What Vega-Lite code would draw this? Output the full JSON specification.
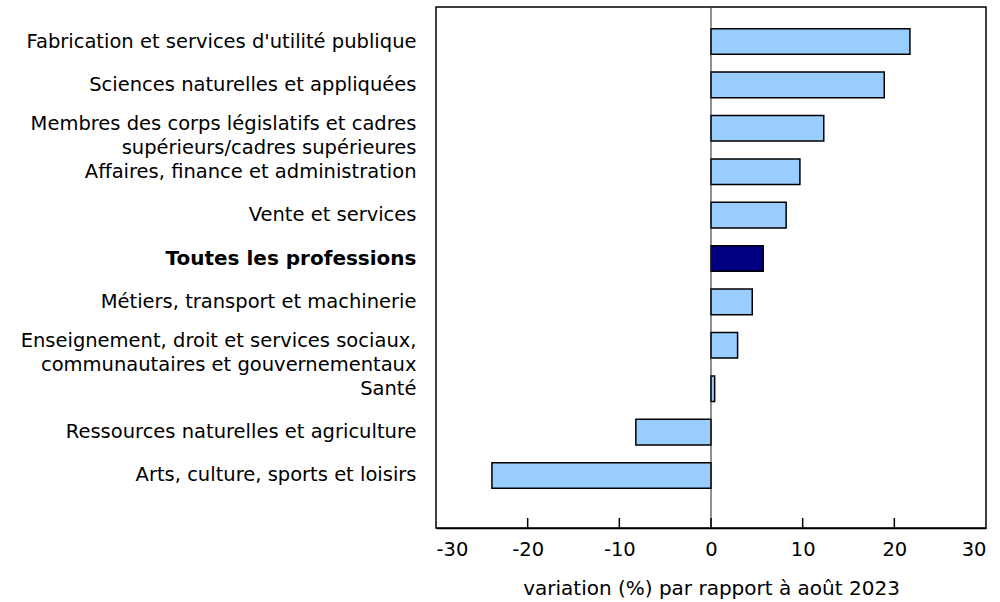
{
  "$schema": "https://vega.github.io/schema/vega-lite/v6.json",
  "width": 550,
  "height": 521,
  "padding": {"left": 20, "top": 6, "right": 13, "bottom": 0},
  "config": {
    "font": "DejaVu Sans",
    "view": {"stroke": "#000000", "strokeWidth": 1.5},
    "axis": {"labelFont": "DejaVu Sans", "titleFont": "DejaVu Sans", "labelColor": "#000000", "titleColor": "#000000"}
  },
  "datasets": {
    "barres": [
      {"profession": "Fabrication et services d'utilité publique", "variation": 21.7, "groupe": "autre"},
      {"profession": "Sciences naturelles et appliquées", "variation": 18.9, "groupe": "autre"},
      {"profession": "Membres des corps législatifs et cadres|supérieurs/cadres supérieures", "variation": 12.3, "groupe": "autre"},
      {"profession": "Affaires, finance et administration", "variation": 9.7, "groupe": "autre"},
      {"profession": "Vente et services", "variation": 8.2, "groupe": "autre"},
      {"profession": "Toutes les professions", "variation": 5.7, "groupe": "total"},
      {"profession": "Métiers, transport et machinerie ", "variation": 4.5, "groupe": "autre"},
      {"profession": "Enseignement, droit et services sociaux,|communautaires et gouvernementaux", "variation": 2.9, "groupe": "autre"},
      {"profession": "Santé", "variation": 0.4, "groupe": "autre"},
      {"profession": "Ressources naturelles et agriculture", "variation": -8.2, "groupe": "autre"},
      {"profession": "Arts, culture, sports et loisirs", "variation": -23.9, "groupe": "autre"}
    ],
    "graduations": [
      {"tick": -20, "bas": 0, "haut": 1},
      {"tick": -10, "bas": 0, "haut": 1},
      {"tick": 0, "bas": 0, "haut": 1},
      {"tick": 10, "bas": 0, "haut": 1},
      {"tick": 20, "bas": 0, "haut": 1}
    ]
  },
  "layer": [
    {
      "data": {"name": "barres"},
      "mark": {"type": "bar", "stroke": "#000000", "strokeWidth": 1.5},
      "encoding": {
        "y": {
          "field": "profession",
          "type": "nominal",
          "sort": null,
          "scale": {"range": [0, 503], "paddingInner": 0.41, "paddingOuter": 0.5},
          "axis": {
            "title": null,
            "domain": false,
            "ticks": false,
            "labelExpr": "split(datum.value, '|')",
            "labelFontSize": {"condition": {"test": "datum.value == 'Toutes les professions'", "value": 20}, "value": 19.5},
            "labelLineHeight": 24,
            "labelPadding": 20,
            "labelLimit": 500,
            "labelOffset": {"condition": {"test": "indexof(datum.value, '|') >= 0", "value": -4}, "value": 0},
            "labelFontWeight": {"condition": {"test": "datum.value == 'Toutes les professions'", "value": "bold"}, "value": "normal"}
          }
        },
        "x": {
          "field": "variation",
          "type": "quantitative",
          "scale": {"domain": [-30, 30], "nice": false},
          "axis": {
            "title": "variation (%) par rapport à août 2023",
            "values": [-30, -20, -10, 0, 10, 20, 30],
            "labelExpr": "datum.value + ''",
            "grid": false,
            "domainColor": "#000000",
            "domainWidth": 1.5,
            "ticks": false,
            "labelFontSize": 19.5,
            "labelPadding": 12,
            "titleFontSize": 20,
            "titleFontWeight": "normal",
            "titlePadding": 20
          }
        },
        "color": {
          "field": "groupe",
          "type": "nominal",
          "scale": {"domain": ["autre", "total"], "range": ["#99CCFF", "#000080"]},
          "legend": null
        }
      }
    },
    {
      "data": {"values": [{"zero": 0}]},
      "mark": {"type": "rule", "color": "#222222", "strokeWidth": 1},
      "encoding": {
        "x": {"field": "zero", "type": "quantitative"}
      }
    },
    {
      "data": {"name": "graduations"},
      "mark": {"type": "rule", "color": "#000000", "strokeWidth": 1.5},
      "encoding": {
        "x": {"field": "tick", "type": "quantitative"},
        "y": {"field": "bas", "type": "quantitative", "scale": {"domain": [0, 52.1], "nice": false, "zero": false}, "axis": null},
        "y2": {"field": "haut"}
      }
    }
  ],
  "resolve": {"scale": {"y": "independent"}, "axis": {"y": "independent"}}
}
